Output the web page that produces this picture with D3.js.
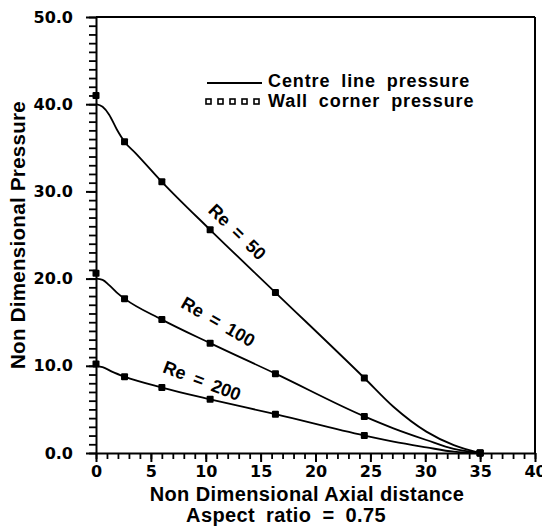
<!DOCTYPE html>
<html>
<head>
<meta charset="utf-8">
<script src="https://cdn.jsdelivr.net/npm/d3@7"></script>
<style>
  html, body { margin: 0; padding: 0; background: #fff; }
  svg { display: block; }
</style>
</head>
<body>
<svg id="chart" width="542" height="527"></svg>
<script>
// Axial stations where the wall corner pressure was sampled
const axialX = [0, 2.6, 6.0, 10.4, 16.35, 24.45, 35];
const wallRe50  = [41.0, 35.7, 31.1, 25.6, 18.4, 8.6, 0];
const wallRe100 = [20.6, 17.7, 15.3, 12.6, 9.1, 4.2, 0];
const wallRe200 = [10.2, 8.75, 7.5, 6.15, 4.45, 2.0, 0];

// Centre line pressure profiles
const centreX50  = [0, 0.6, 1.2, 1.9, 2.6, 3.6, 6.0, 10.4, 16.35, 24.45, 27.1, 30.1, 32.6, 35];
const centreRe50 = [40, 39.7, 38.8, 37.1, 35.7, 34.4, 31.1, 25.6, 18.4, 8.6, 5.3, 2.45, 0.9, 0];
const centreX100  = [0, 0.6, 1.2, 1.9, 2.6, 6.0, 10.4, 16.35, 24.45, 27.1, 30.1, 32.6, 35];
const centreRe100 = [20.0, 19.85, 19.25, 18.4, 17.7, 15.3, 12.6, 9.1, 4.2, 2.83, 1.49, 0.46, 0];
const centreX200  = [0, 0.6, 1.5, 2.6, 6.0, 10.4, 16.35, 24.45, 27.1, 30.1, 32.6, 35];
const centreRe200 = [10.0, 9.85, 9.3, 8.75, 7.5, 6.15, 4.45, 2.0, 1.3, 0.65, 0.15, 0];

// Reynolds number labels and where they sit along each curve (data units)
const reLabels = ["Re = 50", "Re = 100", "Re = 200"];
const reLabelX = [12.85, 11.12, 9.66];
const reLabelY = [25.34, 15.02, 8.26];
const reLabelAngle = [44, 30, 21];

const xMajorTicks = [0, 5, 10, 15, 20, 25, 30, 35, 40];
const yMajorTicks = [0, 10, 20, 30, 40, 50];

const legendItems = ["Centre line pressure", "Wall corner pressure"];
const xTitle = "Non Dimensional Axial distance";
const xSubtitle = "Aspect ratio = 0.75";
const yTitle = "Non Dimensional Pressure";

const svg = d3.select("#chart");
svg.append("rect").attr("width", 542).attr("height", 527).attr("fill", "#fff");

const plot = { left: 96, right: 535, top: 17, bottom: 453 };
const x = d3.scaleLinear().domain([0, 40]).range([plot.left, plot.right]);
const y = d3.scaleLinear().domain([0, 50]).range([plot.bottom, plot.top]);

const tickFont = "DejaVu Sans, sans-serif";
const titleFont = "Liberation Sans, Arial, sans-serif";

// Minor ticks
svg.append("g")
  .attr("transform", `translate(0,${plot.bottom})`)
  .call(d3.axisBottom(x).tickValues(d3.range(0, 41, 1)).tickSize(6).tickSizeOuter(0).tickFormat(""))
  .call(g => g.select(".domain").remove())
  .call(g => g.selectAll("line").attr("stroke", "#000").attr("stroke-width", 1.8));

svg.append("g")
  .attr("transform", `translate(${plot.left},0)`)
  .call(d3.axisLeft(y).tickValues(d3.range(0, 51, 1)).tickSize(7).tickSizeOuter(0).tickFormat(""))
  .call(g => g.select(".domain").remove())
  .call(g => g.selectAll("line").attr("stroke", "#000").attr("stroke-width", 1.8));

// Major ticks with labels
const xAxis = svg.append("g")
  .attr("transform", `translate(0,${plot.bottom})`)
  .call(d3.axisBottom(x).tickValues(xMajorTicks).tickSize(9).tickPadding(4).tickSizeOuter(0).tickFormat(d3.format("d")));
xAxis.select(".domain").attr("stroke", "#000").attr("stroke-width", 2);
xAxis.selectAll("line").attr("stroke", "#000").attr("stroke-width", 2);
xAxis.selectAll("text")
  .attr("font-family", tickFont).attr("font-weight", "bold").attr("font-size", 16).attr("fill", "#000");

const yAxis = svg.append("g")
  .attr("transform", `translate(${plot.left},0)`)
  .call(d3.axisLeft(y).tickValues(yMajorTicks).tickSize(10).tickPadding(13).tickSizeOuter(0).tickFormat(d3.format(".1f")));
yAxis.select(".domain").attr("stroke", "#000").attr("stroke-width", 2);
yAxis.selectAll("line").attr("stroke", "#000").attr("stroke-width", 2);
yAxis.selectAll("text")
  .attr("font-family", tickFont).attr("font-weight", "bold").attr("font-size", 16).attr("fill", "#000");

// Frame: top and right edges
svg.append("line")
  .attr("x1", x(0)).attr("x2", x(40)).attr("y1", y(50)).attr("y2", y(50))
  .attr("stroke", "#000").attr("stroke-width", 2);
svg.append("line")
  .attr("x1", x(40)).attr("x2", x(40)).attr("y1", y(50)).attr("y2", y(0))
  .attr("stroke", "#000").attr("stroke-width", 2);

// Centre line curves
const line = d3.line().x(d => x(d[0])).y(d => y(d[1])).curve(d3.curveMonotoneX);
const centreSeries = [
  d3.zip(centreX50, centreRe50),
  d3.zip(centreX100, centreRe100),
  d3.zip(centreX200, centreRe200)
];
svg.append("g").selectAll("path")
  .data(centreSeries)
  .join("path")
  .attr("d", line)
  .attr("fill", "none")
  .attr("stroke", "#000")
  .attr("stroke-width", 1.8);

// Wall corner markers
const wallSeries = [wallRe50, wallRe100, wallRe200];
const markerSize = 7;
svg.append("g").selectAll("g")
  .data(wallSeries)
  .join("g")
  .selectAll("rect")
  .data(vals => d3.zip(axialX, vals))
  .join("rect")
  .attr("x", d => x(d[0]) - markerSize / 2)
  .attr("y", d => y(d[1]) - markerSize / 2)
  .attr("width", markerSize)
  .attr("height", markerSize)
  .attr("rx", 1)
  .attr("fill", "#000");

// Reynolds number labels
svg.append("g").selectAll("text")
  .data(reLabels)
  .join("text")
  .attr("transform", (d, i) => `translate(${x(reLabelX[i])},${y(reLabelY[i])}) rotate(${reLabelAngle[i]})`)
  .attr("text-anchor", "middle")
  .attr("dominant-baseline", "central")
  .attr("font-family", titleFont)
  .attr("font-weight", "bold")
  .attr("font-size", 18)
  .attr("word-spacing", 4)
  .text(d => d);

// Legend
const legend = svg.append("g").attr("transform", "translate(205,0)");
legend.append("line")
  .attr("x1", 2).attr("x2", 57).attr("y1", 83).attr("y2", 83)
  .attr("stroke", "#000").attr("stroke-width", 1.8);
legend.selectAll("rect")
  .data(d3.range(5))
  .join("rect")
  .attr("x", d => 1 + d * 12)
  .attr("y", 99)
  .attr("width", 5).attr("height", 5)
  .attr("fill", "#fff").attr("stroke", "#000").attr("stroke-width", 1.6);
legend.selectAll("text")
  .data(legendItems)
  .join("text")
  .attr("x", 63)
  .attr("y", (d, i) => 86.5 + i * 20.5)
  .attr("font-family", titleFont)
  .attr("font-weight", "bold")
  .attr("font-size", 18)
  .attr("word-spacing", 5)
  .attr("letter-spacing", 0.9)
  .text(d => d);

// Axis titles
svg.append("text")
  .attr("x", 307).attr("y", 501)
  .attr("text-anchor", "middle")
  .attr("font-family", titleFont).attr("font-weight", "bold").attr("font-size", 20)
  .attr("letter-spacing", 0.4)
  .text(xTitle);
svg.append("text")
  .attr("x", 286).attr("y", 522)
  .attr("text-anchor", "middle")
  .attr("font-family", titleFont).attr("font-weight", "bold").attr("font-size", 20)
  .attr("word-spacing", 5)
  .attr("letter-spacing", 0.4)
  .text(xSubtitle);
svg.append("text")
  .attr("transform", `translate(25,${(plot.top + plot.bottom) / 2}) rotate(-90)`)
  .attr("text-anchor", "middle")
  .attr("font-family", titleFont).attr("font-weight", "bold").attr("font-size", 20.5)
  .attr("letter-spacing", 0.3)
  .text(yTitle);
</script>
</body>
</html>
